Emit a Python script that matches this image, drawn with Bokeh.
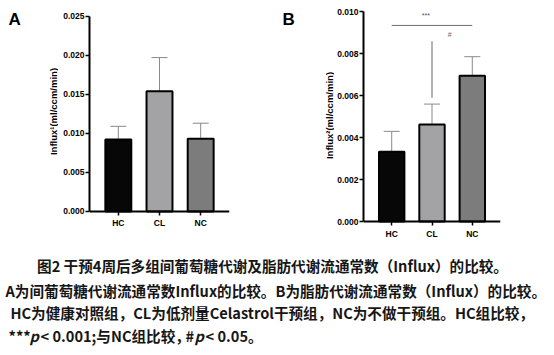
import math
from bokeh.plotting import figure
from bokeh.models import (ColumnDataSource, Range1d, FixedTicker, PrintfTickFormatter,
                          Whisker, TeeHead)
from bokeh.layouts import column, row
from bokeh.embed import file_html
from bokeh.resources import INLINE
from bokeh.core.properties import value

groups = ["HC", "CL", "NC"]
glucose_influx = [0.0092, 0.0154, 0.0093]
glucose_upper = [0.0109, 0.0197, 0.0113]
fat_influx = [0.00333, 0.00463, 0.00695]
fat_upper = [0.0043, 0.0056, 0.00786]
bar_colors = ["#070707", "#a3a3a6", "#7c7c7c"]
yticks_a = [0.000, 0.005, 0.010, 0.015, 0.020, 0.025]
yticks_b = [0.000, 0.002, 0.004, 0.006, 0.008, 0.010]
ylabel_a = "Influx¹(ml/ccm/min)"
ylabel_b = "Influx²(ml/ccm/min)"
sig_bracket_b = {"x0": 0, "x1": 2, "y": 0.00935, "label": "***"}
sig_hash_b = {"x": 1, "y0": 0.0059, "y1": 0.0086, "label": "#"}
caption_title = "图2 干预4周后多组间葡萄糖代谢及脂肪代谢流通常数（Influx）的比较。"
caption_line2 = "A为间葡萄糖代谢流通常数Influx的比较。B为脂肪代谢流通常数（Influx）的比较。"
caption_line3 = "HC为健康对照组，CL为低剂量Celastrol干预组，NC为不做干预组。HC组比较，"
caption_line4 = ["***", "p", "< 0.001;与NC组比较，", "#", "p", "< 0.05。"]

FONT = "Liberation Sans"
CJK = "Noto Sans CJK SC"
ROW_H = 245
# every plot in the row shares one frame (Bokeh aligns frames across a row)
FRAME_TOP, FRAME_BOTTOM = 11, 242


def side_fig(width, letter, letter_x, ylabel, label_x, label_y):
    """Strip left of a panel: panel letter and rotated y-axis title (pixel coords)."""
    f = figure(width=width, height=ROW_H, output_backend="svg", toolbar_location=None,
               x_range=Range1d(0, width), y_range=Range1d(FRAME_BOTTOM, FRAME_TOP),
               x_axis_type=None, y_axis_type=None, min_border_left=0,
               min_border_right=0, min_border_top=FRAME_TOP,
               min_border_bottom=ROW_H - FRAME_BOTTOM)
    f.grid.visible = False
    f.outline_line_color = None
    f.text(x=[letter_x], y=[18.5], text=[letter], text_font=value(FONT),
           text_font_style="bold", text_font_size="17px", text_align="left",
           text_baseline="middle", text_color="black")
    f.text(x=[label_x], y=[label_y], text=[ylabel], angle=math.pi / 2,
           text_font=value(FONT), text_font_style="bold", text_font_size="9.5px",
           text_align="center", text_baseline="middle", text_color="black")
    return f


def panel(vals, upper, yticks, width, left, right, yrange):
    x = list(range(len(groups)))
    src = ColumnDataSource(dict(x=x, top=vals, upper=upper, color=bar_colors))
    p = figure(width=width, height=ROW_H, output_backend="svg", toolbar_location=None,
               x_range=Range1d(-0.7, 2.7), y_range=Range1d(*yrange),
               min_border_left=left, min_border_right=right,
               min_border_top=FRAME_TOP, min_border_bottom=ROW_H - FRAME_BOTTOM)
    p.vbar(x="x", top="top", width=0.63, fill_color="color", line_color="black",
           line_width=2, source=src)
    w = Whisker(base="x", lower="top", upper="upper", source=src, line_color="#8a8a8a",
                line_width=1, lower_head=None,
                upper_head=TeeHead(size=16, line_color="#8a8a8a", line_width=1))
    p.add_layout(w)
    p.grid.visible = False
    p.outline_line_color = None
    for ax in (p.xaxis, p.yaxis):
        ax.axis_line_width = 2
        ax.axis_line_color = "black"
        ax.major_tick_line_width = 1.5
        ax.major_tick_line_color = "black"
        ax.major_tick_out = 4
        ax.major_tick_in = 0
        ax.minor_tick_line_color = None
        ax.major_label_text_font = FONT
        ax.major_label_text_font_style = "bold"
        ax.major_label_text_font_size = "8.5px"
        ax.major_label_text_color = "black"
        ax.major_label_standoff = 2
    p.xaxis.ticker = FixedTicker(ticks=x)
    p.xaxis.major_label_overrides = {i: g for i, g in enumerate(groups)}
    p.xaxis.major_label_standoff = 3
    p.xaxis.fixed_location = yticks[0]
    p.yaxis.ticker = FixedTicker(ticks=yticks)
    p.yaxis.bounds = (yticks[0], yticks[-1])
    p.yaxis.formatter = PrintfTickFormatter(format="%.3f")
    p.yaxis.major_label_standoff = 1
    return p


# panel A: strip 0..58, plot 58..277 (y axis at x=89, 0.025 at y=15.7, 0 at y=211)
sA = side_fig(58, "A", 8, ylabel_a, 52.5, 111)
pA = panel(glucose_influx, glucose_upper, yticks_a, 219, 31, 48, (-0.003968, 0.025598))
# panel B: strip 277..334, plot 334..550 (y axis at x=361, 0.010 at y=10.7, 0 at y=221)
sB = side_fig(57, "B", 5, ylabel_b, 52, 115)
pB = panel(fat_influx, fat_upper, yticks_b, 216, 27, 50, (-0.000999, 0.010014))

pB.segment(x0=[sig_bracket_b["x0"]], x1=[sig_bracket_b["x1"]],
           y0=[sig_bracket_b["y"]], y1=[sig_bracket_b["y"]], line_color="#6e6e6e",
           line_width=1)
pB.text(x=[0.85], y=[0.0098], text=[sig_bracket_b["label"]], text_font=value(FONT),
        text_font_size="7px", text_align="center", text_baseline="middle",
        text_color="#555555")
pB.segment(x0=[sig_hash_b["x"]], x1=[sig_hash_b["x"]], y0=[sig_hash_b["y0"]],
           y1=[sig_hash_b["y1"]], line_color="#9a9a9a", line_width=1.5)
pB.text(x=[1.44], y=[0.00892], text=[sig_hash_b["label"]], text_font=value(FONT),
        text_font_size="7px", text_align="center", text_baseline="middle",
        text_color="#6a6a6a")

CAP_TOP, CAP_H, TOTAL_W = ROW_H, 105, 550
cap = figure(width=TOTAL_W, height=CAP_H, output_backend="svg", toolbar_location=None,
             x_range=Range1d(0, TOTAL_W), y_range=Range1d(CAP_TOP + CAP_H, CAP_TOP),
             x_axis_type=None, y_axis_type=None, min_border=0)
cap.grid.visible = False
cap.outline_line_color = None


def cap_text(x, y, t, align="left", style="bold"):
    cap.text(x=[x], y=[y], text=[t], text_font=value(CJK), text_font_style=style,
             text_font_size="14.6px", text_align=align, text_baseline="middle",
             text_color="#161616")


cap_text(272, 265, caption_title, align="center")
cap_text(5, 290, caption_line2)
cap_text(10, 312, caption_line3)
xs4 = [8, 29, 40, 185, 194, 205]
for xx, t in zip(xs4, caption_line4):
    cap_text(xx, 335, t, style="bold italic" if t == "p" else "bold")

layout = column(row(sA, pA, sB, pB), cap)
open("out.html", "w").write(file_html(layout, INLINE))
